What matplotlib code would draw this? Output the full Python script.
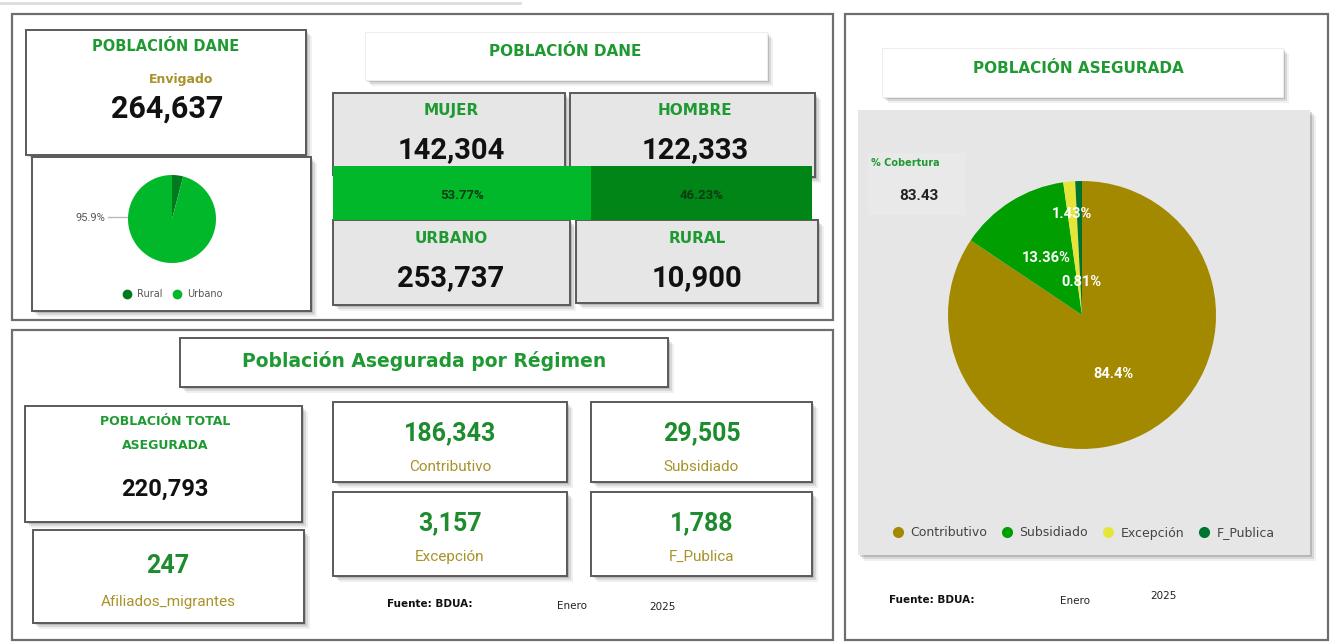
import matplotlib
matplotlib.use("Agg")
import matplotlib.pyplot as plt
from matplotlib.patches import Rectangle
from matplotlib.lines import Line2D
import numpy as np

W, H = 1331, 644

# ---------------- data ----------------
municipio = "Envigado"
poblacion_dane = "264,637"
sexo_labels = ["MUJER", "HOMBRE"]
sexo_values = [142304, 122333]
sexo_pct = [53.77, 46.23]
zona_labels = ["URBANO", "RURAL"]
zona_values = [253737, 10900]
zona_pie_labels = ["Rural", "Urbano"]
zona_pie_values = [10900, 253737]
urbano_pct_label = "95.9%"

regimen_labels = ["Contributivo", "Subsidiado", "Excepción", "F_Publica"]
regimen_values = [186343, 29505, 3157, 1788]
regimen_pct_labels = ["84.4%", "13.36%", "1.43%", "0.81%"]
total_asegurada = "220,793"
migrantes = "247"
cobertura = "83.43"
fuente = "Fuente: BDUA:"
mes = "Enero"
anio = "2025"

# ---------------- style ----------------
GREEN_T = "#1f9a32"
OLIVE = "#a8922a"
GRAY_BG = "#e6e6e6"
BORDER = "#5a5a5a"
NUM_FONT = "Roboto"
TIT_FONT = "DejaVu Sans"

fig = plt.figure(figsize=(W / 100, H / 100), dpi=100)
fig.patch.set_facecolor("white")
ax = fig.add_axes([0, 0, 1, 1])
ax.set_xlim(0, W)
ax.set_ylim(H, 0)
ax.axis("off")


def box(x0, y0, x1, y1, fc="white", ec=BORDER, lw=1.4, shadow=True, z=1):
    if shadow:
        for off, a in [(6, 0.06), (4, 0.10), (2, 0.14)]:
            ax.add_patch(Rectangle((x0 + off, y0 + off), x1 - x0, y1 - y0,
                                   fc="#000000", ec="none", alpha=a, zorder=z))
    ax.add_patch(Rectangle((x0, y0), x1 - x0, y1 - y0, fc=fc,
                           ec=ec if ec else "none", lw=lw, zorder=z + 0.1))


def txt(x, y, s, size, color="black", weight="bold", family=TIT_FONT, z=5, **kw):
    ax.text(x, y, s, fontsize=size, color=color, fontweight=weight,
            family=family, ha="center", va="center", zorder=z, **kw)


# faint top line
ax.plot([0, 520], [3, 3], color="#dddddd", lw=2, zorder=0)

# outer panels
for (x0, y0, x1, y1) in [(12, 14, 833, 320), (12, 330, 833, 640), (845, 14, 1328, 640)]:
    ax.add_patch(Rectangle((x0, y0), x1 - x0, y1 - y0, fc="white", ec="#6e6e6e", lw=1.6, zorder=0.5))

# ---------- top-left: Poblacion DANE ----------
box(26, 30, 306, 155)
txt(166, 46, "POBLACIÓN DANE", 10.5, GREEN_T)
txt(181, 79, municipio, 9, OLIVE)
txt(167, 109, poblacion_dane, 22, "#111111", family=NUM_FONT)

box(32, 157, 311, 311)
pcx, pcy, pr = 172, 219, 44
pax = fig.add_axes([(pcx - pr) / W, 1 - (pcy + pr) / H, 2 * pr / W, 2 * pr / H])
pax.pie(zona_pie_values, colors=["#007a1e", "#00b82a"], startangle=90, counterclock=False,
        wedgeprops=dict(linewidth=0))
pax.set_xlim(-1, 1)
pax.set_ylim(-1, 1)
pax.set_aspect("equal")
pax.set_zorder(6)
ax.plot([108, 127], [217, 217], color="#bbbbbb", lw=1, zorder=5)
ax.text(105, 218, urbano_pct_label, fontsize=8, color="#555555", ha="right", va="center",
        family=NUM_FONT, zorder=5)
h1 = [Line2D([], [], marker="o", ls="", color=c, markersize=6) for c in ["#007a1e", "#00b82a"]]
fig.legend(h1, zona_pie_labels, loc="center", bbox_to_anchor=(170 / W, 1 - 294 / H), ncol=2,
           frameon=False, fontsize=7, handletextpad=0.0, columnspacing=0.5,
           labelcolor="#555555")

# ---------- top-middle ----------
box(365, 32, 767, 80, ec="#eeeeee", lw=0.8)
txt(565, 51, "POBLACIÓN DANE", 11, GREEN_T)

box(333, 93, 565, 175, fc=GRAY_BG, ec=BORDER)
box(570, 93, 815, 177, fc=GRAY_BG, ec=BORDER)
txt(451, 110, sexo_labels[0], 11, GREEN_T)
txt(695, 110, sexo_labels[1], 11, GREEN_T)
txt(451, 150, f"{sexo_values[0]:,}", 21, "#111111", family=NUM_FONT)
txt(695, 150, f"{sexo_values[1]:,}", 21, "#111111", family=NUM_FONT)

bar_x0, bar_w = 333, 479
tot = sum(sexo_pct)
lefts = [bar_x0, bar_x0 + bar_w * sexo_pct[0] / tot]
widths = [bar_w * p / tot for p in sexo_pct]
ax.barh([193, 193], widths, left=lefts, height=54, color=["#00b82a", "#008516"], zorder=3)
for l, w_, p in zip(lefts, widths, sexo_pct):
    txt(l + w_ / 2, 195, f"{p:.2f}%", 9.5, "#0d3b12", family=NUM_FONT)

box(333, 220, 570, 305, fc=GRAY_BG, ec=BORDER)
box(576, 220, 818, 303, fc=GRAY_BG, ec=BORDER)
txt(451, 238, zona_labels[0], 11, GREEN_T)
txt(697, 238, zona_labels[1], 11, GREEN_T)
txt(451, 278, f"{zona_values[0]:,}", 21, "#111111", family=NUM_FONT)
txt(697, 278, f"{zona_values[1]:,}", 21, "#111111", family=NUM_FONT)

# ---------- bottom-left ----------
box(180, 338, 668, 387, ec=BORDER)
txt(424, 361, "Población Asegurada por Régimen", 13.5, GREEN_T)

box(25, 406, 302, 522)
txt(165, 421, "POBLACIÓN TOTAL", 9, GREEN_T)
txt(165, 445, "ASEGURADA", 9, GREEN_T)
txt(165, 489, total_asegurada, 17, "#111111", family=NUM_FONT)

box(33, 530, 304, 623)
txt(168, 566, migrantes, 18, "#1e8c2e", family=NUM_FONT)
txt(168, 602, "Afiliados_migrantes", 11, OLIVE, weight="normal", family=NUM_FONT)

cards = [(333, 402, 567, 482), (591, 402, 812, 482), (333, 492, 567, 576), (591, 492, 812, 576)]
for (x0, y0, x1, y1), lab, val in zip(cards, regimen_labels, regimen_values):
    box(x0, y0, x1, y1)
    cx = (x0 + x1) / 2
    txt(cx, y0 + 31, f"{val:,}", 18, "#1e8c2e", family=NUM_FONT)
    txt(cx, y0 + 65, lab, 11, OLIVE, weight="normal", family=NUM_FONT)

ax.text(430, 604, fuente, fontsize=7.5, fontweight="bold", ha="center", va="center", color="#111111")
ax.text(572, 606, mes, fontsize=7.5, ha="center", va="center", color="#222222")
ax.text(662, 607, anio, fontsize=7.5, ha="center", va="center", color="#222222")

# ---------- right panel ----------
box(882, 48, 1283, 97, ec="#eeeeee", lw=0.8)
txt(1078, 68, "POBLACIÓN ASEGURADA", 11, GREEN_T)

box(858, 110, 1310, 555, fc=GRAY_BG, ec="none")
box(868, 153, 965, 215, fc="#e9e9e9", ec="none")
txt(905, 163, "% Cobertura", 7, GREEN_T)
txt(919, 196, cobertura, 11, "#222222", family=NUM_FONT)

bcx, bcy, br = 1082, 315, 134
bax = fig.add_axes([(bcx - br) / W, 1 - (bcy + br) / H, 2 * br / W, 2 * br / H])
reg_colors = ["#a38900", "#009e00", "#e6e63a", "#00732e"]
wedges, _ = bax.pie(regimen_values, colors=reg_colors, startangle=90, counterclock=False,
                    wedgeprops=dict(linewidth=0))
bax.set_xlim(-1, 1)
bax.set_ylim(-1, 1)
bax.set_aspect("equal")
label_r = [0.5, 0.5, 0.76, 0.25]
for wdg, lab, r in zip(wedges, regimen_pct_labels, label_r):
    ang = np.deg2rad((wdg.theta1 + wdg.theta2) / 2)
    bax.text(r * np.cos(ang), r * np.sin(ang), lab, color="white", fontsize=10.5,
             fontweight="bold", ha="center", va="center", family=NUM_FONT)

h2 = [Line2D([], [], marker="o", ls="", color=c, markersize=7) for c in reg_colors]
fig.legend(h2, regimen_labels, loc="center", bbox_to_anchor=(1080 / W, 1 - 533 / H), ncol=4,
           frameon=False, fontsize=9, handletextpad=0.0, columnspacing=0.6,
           labelcolor="#444444")

ax.text(932, 600, fuente, fontsize=7.5, fontweight="bold", ha="center", va="center", color="#111111")
ax.text(1075, 601, mes, fontsize=7.5, ha="center", va="center", color="#222222")
ax.text(1163, 596, anio, fontsize=7.5, ha="center", va="center", color="#222222")

fig.savefig("out.png", dpi=100, facecolor="white")
